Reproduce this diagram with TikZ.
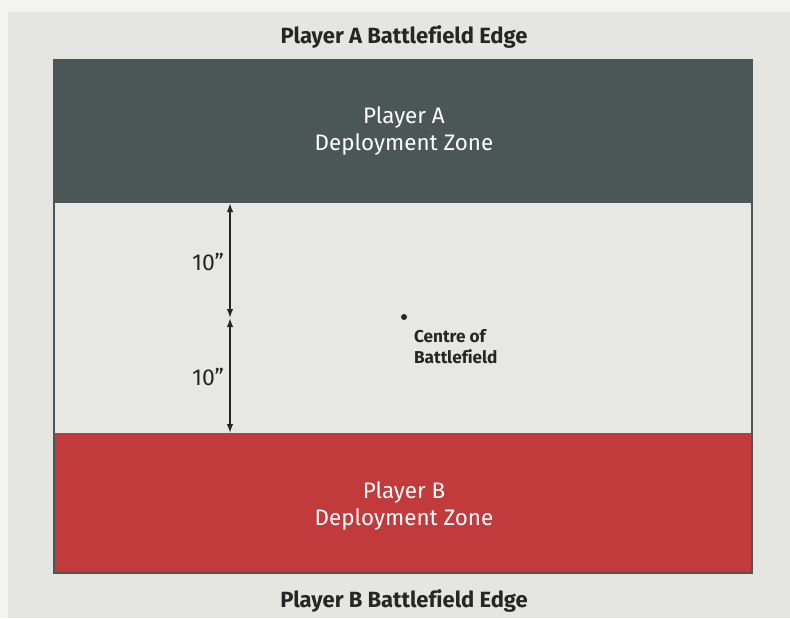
\documentclass[tikz,border=0pt]{standalone}
\usepackage{fontspec}
\setmainfont[Ligatures={NoCommon}]{Fira Sans}
\usetikzlibrary{arrows.meta}
\definecolor{zoneA}{RGB}{74,87,86}
\definecolor{zoneB}{RGB}{193,58,60}
\definecolor{fieldGrey}{RGB}{231,231,227}
\definecolor{paperGrey}{RGB}{229,229,225}
\definecolor{pageWhite}{RGB}{243,243,241}
\definecolor{inkDark}{RGB}{38,38,38}

\begin{document}
\begin{tikzpicture}[x=0.5pt, y=-0.5pt,
  edgelabel/.style={font=\fontsize{11}{13}\selectfont\bfseries, text=inkDark},
  zonelabel/.style={font=\fontsize{11.2}{13.5}\selectfont, text=white, align=center},
  distlabel/.style={font=\fontsize{11.5}{13}\selectfont, text=inkDark},
  measure/.style={{Latex[length=4.5pt,width=3.2pt]}-{Latex[length=4.5pt,width=3.2pt]}, line width=0.7pt, inkDark}]
\useasboundingbox (0,0) rectangle (790,618);
\fill[pageWhite] (0,0) rectangle (790,618);
\fill[paperGrey] (8,12) rectangle (790,618);
\fill[fieldGrey] (54,60) rectangle (752,573);
\fill[zoneA] (54,60) rectangle (752,203);
\fill[zoneB] (54,433) rectangle (752,573);
\draw[zoneA, line width=1pt] (54,60) rectangle (752,573);
\node[edgelabel] (edgeA) at (404,37) {Player A Battlefield Edge};
\node[edgelabel] (edgeB) at (404,601) {Player B Battlefield Edge};
\node[zonelabel] (zoneAlbl) at (404,131) {Player A\\Deployment Zone};
\node[zonelabel] (zoneBlbl) at (404,506) {Player B\\Deployment Zone};
\coordinate (rulerTop) at (230,203);
\coordinate (rulerMid) at (230,318);
\coordinate (rulerBot) at (230,433);
\draw[measure] (rulerTop) -- (rulerMid);
\draw[measure] (rulerMid) -- (rulerBot);
\node[distlabel] (distA) at (208,262) {10"};
\node[distlabel] (distB) at (208,377) {10"};
\fill[inkDark] (404,317) circle (1.5pt);
\node[font=\fontsize{8.6}{10.5}\selectfont\bfseries, text=inkDark, align=left, anchor=north west] (centre) at (407,322) {Centre of\\Battlefield};
\end{tikzpicture}
\end{document}
